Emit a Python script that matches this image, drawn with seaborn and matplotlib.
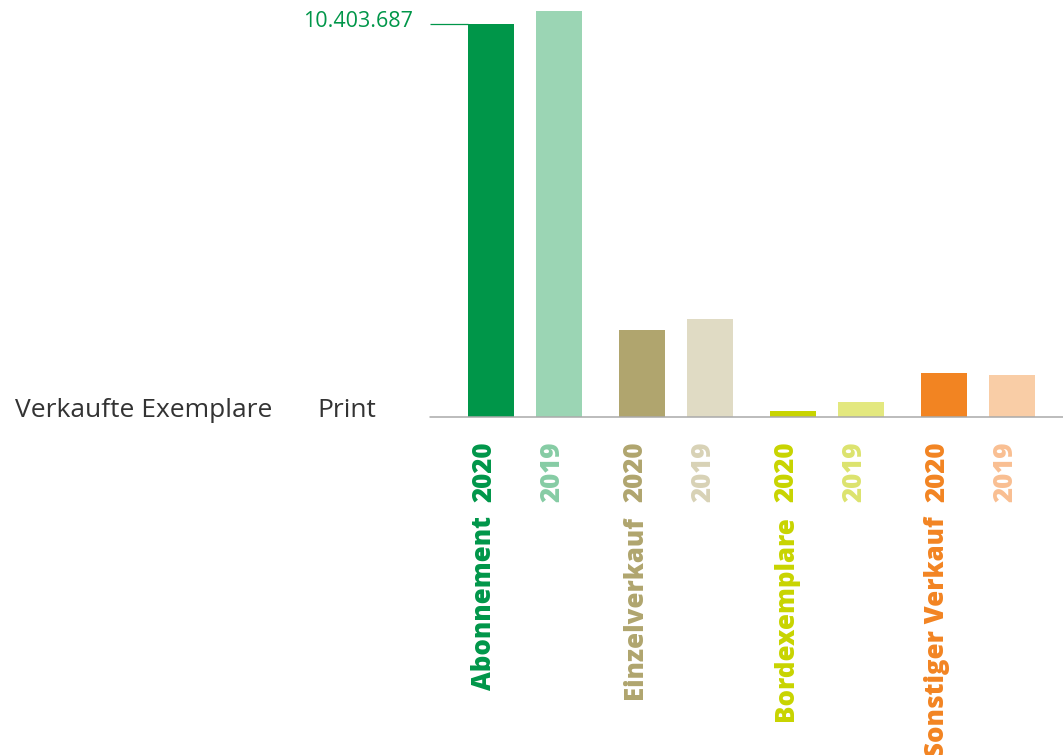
import matplotlib
matplotlib.use("Agg")
import matplotlib.pyplot as plt
import seaborn as sns
import pandas as pd

# Sold print copies by sales channel, 2020 vs 2019
categories = ["Abonnement", "Einzelverkauf", "Bordexemplare", "Sonstiger Verkauf"]
years = ["2020", "2019"]
values_2020 = [10403687, 2303000, 159000, 1165000]
values_2019 = [10748000, 2594000, 397000, 1112000]
colors_2020 = ["#009649", "#b0a56e", "#c8d400", "#f28422"]
colors_2019 = ["#9bd5b4", "#e0dbc4", "#e3e87f", "#f9cda6"]
label_colors_2019 = ["#86cca4", "#d8d2b6", "#dce36e", "#f9bf92"]
top_label = "10.403.687"
axis_title = "Verkaufte Exemplare"
axis_subtitle = "Print"

sns.set_theme(style="white")
plt.rcParams["font.family"] = ["Open Sans", "DejaVu Sans"]

df = pd.DataFrame({
    "Kategorie": categories * 2,
    "Jahr": [years[0]] * len(categories) + [years[1]] * len(categories),
    "Exemplare": values_2020 + values_2019,
})

W, H = 1063, 755
fig = plt.figure(figsize=(W / 100, H / 100), dpi=100)
base_px = 417
left_px = 430
ax = fig.add_axes([left_px / W, 1 - base_px / H, 1 - left_px / W, base_px / H])

sns.barplot(data=df, x="Kategorie", y="Exemplare", hue="Jahr", hue_order=years,
            order=categories, width=0.9, gap=0.32, saturation=1, legend=False,
            errorbar=None, ax=ax)

for patch, c in zip(ax.containers[0], colors_2020):
    patch.set_facecolor(c)
    patch.set_edgecolor("none")
for patch, c in zip(ax.containers[1], colors_2019):
    patch.set_facecolor(c)
    patch.set_edgecolor("none")

# category pitch is 151 px, first group centred at x=525 px
px_per_unit = 151
x0 = (left_px - 525) / px_per_unit
x1 = (W - 525) / px_per_unit
ax.set_xlim(x0, x1)
ax.set_ylim(0, values_2020[0] * base_px / 393)

for s in ax.spines.values():
    s.set_visible(False)
ax.set_xticks([])
ax.set_yticks([])
ax.set_xlabel("")
ax.set_ylabel("")

ax.axhline(0, color="#aaaaaa", lw=1.1, clip_on=False)

# leader line and value label for the largest bar
first = ax.containers[0][0]
ax.plot([x0, first.get_x()], [values_2020[0], values_2020[0]], color=colors_2020[0],
        lw=0.9, clip_on=False, solid_capstyle="butt")
ax.annotate(top_label, xy=(x0, values_2020[0]), xytext=(-17, -3),
            textcoords="offset pixels", ha="right", va="baseline",
            color=colors_2020[0], fontsize=15.5, annotation_clip=False)

# rotated labels under the bars
for i, cat in enumerate(categories):
    p20 = ax.containers[0][i]
    p19 = ax.containers[1][i]
    cx20 = p20.get_x() + p20.get_width() / 2
    cx19 = p19.get_x() + p19.get_width() / 2
    common = dict(textcoords="offset pixels", rotation=90, rotation_mode="anchor",
                  ha="right", va="baseline", fontsize=18.6, fontweight="heavy",
                  annotation_clip=False)
    ax.annotate(years[0], xy=(cx20, 0), xytext=(0, -25), color=colors_2020[i], **common)
    ax.annotate(cat, xy=(cx20, 0), xytext=(0, -99), color=colors_2020[i], **common)
    ax.annotate(years[1], xy=(cx19, 0), xytext=(0, -25), color=label_colors_2019[i], **common)

fig.text(15 / W, 1 - base_px / H, axis_title, ha="left", va="baseline",
         fontsize=19, color="#333333")
fig.text(317 / W, 1 - base_px / H, axis_subtitle, ha="left", va="baseline",
         fontsize=19, color="#333333")

fig.savefig("out.png", dpi=100)
